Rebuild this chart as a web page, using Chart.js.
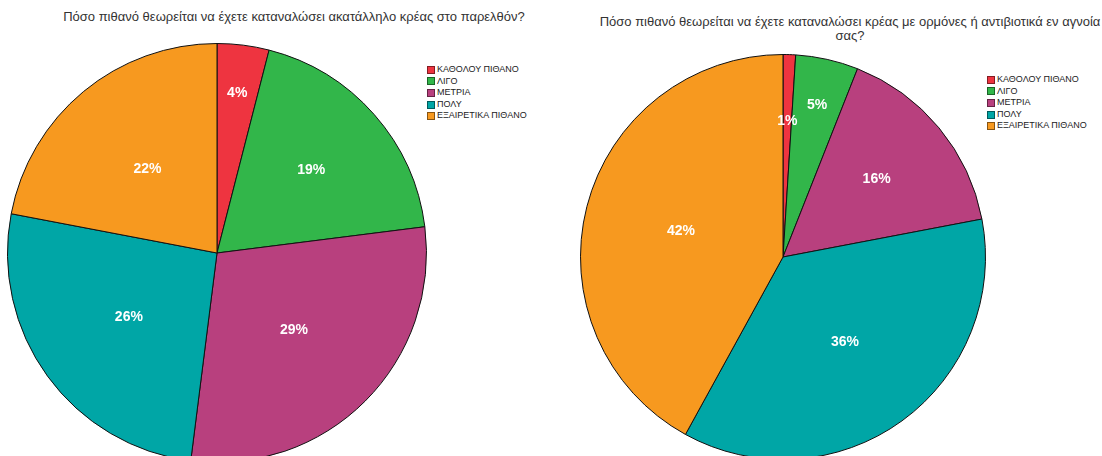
<!DOCTYPE html>
<html>
<head>
<meta charset="utf-8">
<script src="https://cdn.jsdelivr.net/npm/chart.js@4"></script>
<style>
  html, body { margin: 0; padding: 0; background: #fff; overflow: hidden; }
  body { width: 1102px; height: 456px; position: relative; font-family: "Liberation Sans", Arial, sans-serif; }
  .title { position: absolute; font-size: 13px; color: #333; text-align: center; white-space: nowrap; line-height: 14px; }
  .legend { position: absolute; font-size: 9px; color: #222; line-height: 11.6px; }
  .legend div { display: flex; align-items: center; }
  .legend span.box { width: 8px; height: 8px; margin-right: 2px; border: 1px solid rgba(0,0,0,0.45); box-sizing: border-box; }
  .pie { position: absolute; }
</style>
</head>
<body>
<div class="title" style="left:0;width:588px;top:10px;">Πόσο πιθανό θεωρείται να έχετε καταναλώσει ακατάλληλο κρέας στο παρελθόν?</div>
<div class="title" style="left:598px;width:504px;top:15px;">Πόσο πιθανό θεωρείται να έχετε καταναλώσει κρέας με ορμόνες ή αντιβιοτικά εν αγνοία<br>σας?</div>

<div class="pie" style="left:7px;top:43px;width:420px;height:420px;"><canvas id="pie1"></canvas></div>
<div class="pie" style="left:580px;top:54px;width:406px;height:406px;"><canvas id="pie2"></canvas></div>

<div class="legend" id="legend1" style="left:427px;top:64px;"></div>
<div class="legend" id="legend2" style="left:987px;top:74px;"></div>

<script>
const categories = ["ΚΑΘΟΛΟΥ ΠΙΘΑΝΟ", "ΛΙΓΟ", "ΜΕΤΡΙΑ", "ΠΟΛΥ", "ΕΞΑΙΡΕΤΙΚΑ ΠΙΘΑΝΟ"];
const pastMeat = [4, 19, 29, 26, 22];
const hormoneMeat = [1, 5, 16, 36, 42];
const colors = ["#EE3440", "#32B64A", "#B8407E", "#00A6A6", "#F7991F"];

// white percentage text inside each slice
const sliceLabels = {
  id: "sliceLabels",
  afterDatasetsDraw(chart) {
    const ctx = chart.ctx;
    const meta = chart.getDatasetMeta(0);
    const values = chart.data.datasets[0].data;
    ctx.save();
    ctx.font = "bold 14px 'Liberation Sans', Arial, sans-serif";
    ctx.fillStyle = "#fff";
    ctx.textAlign = "center";
    ctx.textBaseline = "middle";
    meta.data.forEach((arc, i) => {
      const v = values[i];
      const mid = (arc.startAngle + arc.endAngle) / 2;
      let f = 0.52;
      if (v <= 1) f = 0.67;
      else if (v < 6) f = 0.77;
      else if (v < 20) f = 0.6;
      const x = arc.x + Math.cos(mid) * arc.outerRadius * f;
      const y = arc.y + Math.sin(mid) * arc.outerRadius * f;
      ctx.fillText(v + "%", x, y);
    });
    ctx.restore();
  }
};

function makePie(id, values) {
  return new Chart(document.getElementById(id), {
    type: "pie",
    data: {
      labels: categories,
      datasets: [{
        data: values,
        backgroundColor: colors,
        borderColor: "#111",
        borderWidth: 1
      }]
    },
    options: {
      responsive: true,
      maintainAspectRatio: false,
      animation: false,
      layout: { padding: 0 },
      plugins: { legend: { display: false }, tooltip: { enabled: false } }
    },
    plugins: [sliceLabels]
  });
}

function makeLegend(id) {
  const el = document.getElementById(id);
  categories.forEach((c, i) => {
    const row = document.createElement("div");
    const box = document.createElement("span");
    box.className = "box";
    box.style.background = colors[i];
    row.appendChild(box);
    row.appendChild(document.createTextNode(c));
    el.appendChild(row);
  });
}

makePie("pie1", pastMeat);
makePie("pie2", hormoneMeat);
makeLegend("legend1");
makeLegend("legend2");
</script>
</body>
</html>
